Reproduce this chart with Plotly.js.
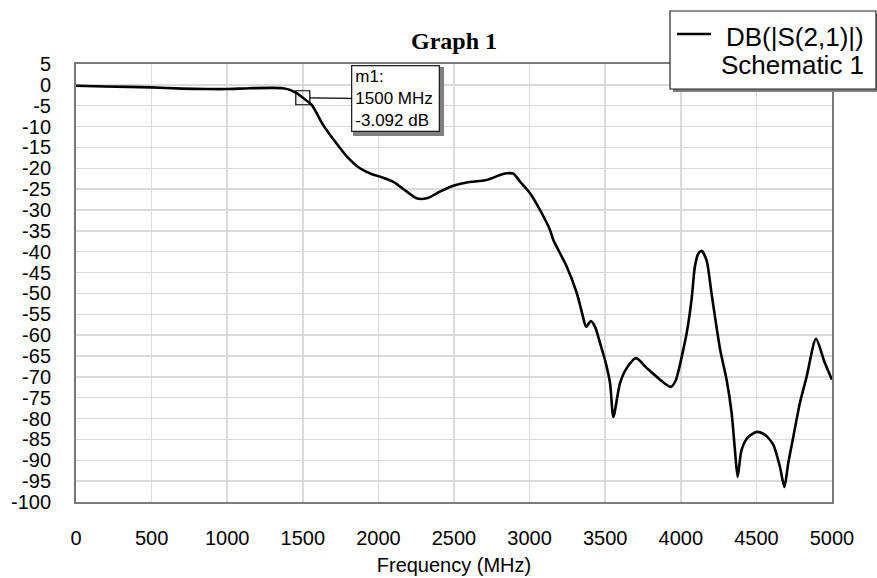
<!DOCTYPE html>
<html>
<head>
<meta charset="utf-8">
<script src="https://cdn.plot.ly/plotly-3.0.1.min.js"></script>
<style>html,body{margin:0;padding:0;background:#fff;}#chart{width:877px;height:578px;}</style>
</head>
<body>
<div id="chart"></div>
<script>
// Data
const freqMHz = [0, 192, 500, 701, 866, 1000, 1151, 1369, 1415, 1460, 1500, 1559, 1634, 1713, 1792, 1878, 1950, 2011, 2096, 2188, 2253, 2319, 2407, 2496, 2584, 2716, 2804, 2848, 2892, 2937, 3003, 3069, 3135, 3157, 3246, 3312, 3347, 3374, 3405, 3433, 3466, 3499, 3532, 3554, 3598, 3642, 3704, 3775, 3841, 3934, 3965, 3995, 4019, 4039, 4071, 4093, 4115, 4137, 4170, 4203, 4236, 4263, 4303, 4336, 4358, 4376, 4402, 4446, 4504, 4557, 4612, 4656, 4685, 4711, 4744, 4788, 4832, 4894, 4953, 5000];
const s21dB = [-0.2, -0.4, -0.6, -0.9, -1.0, -1.0, -0.8, -0.8, -1.2, -2.0, -3.09, -4.8, -9.6, -13.6, -17.2, -20.0, -21.3, -22.0, -23.2, -25.6, -27.2, -27.2, -25.6, -24.2, -23.4, -22.8, -21.6, -21.2, -21.3, -23.2, -26.0, -30.0, -34.8, -37.2, -43.6, -49.9, -54.7, -58.0, -56.6, -58.0, -61.9, -66.0, -71.5, -79.6, -71.5, -67.9, -65.5, -67.9, -70.0, -72.4, -71.0, -67.0, -63.0, -59.5, -51.5, -43.6, -40.5, -39.8, -42.0, -49.9, -58.0, -64.0, -70.7, -78.6, -87.5, -94.0, -87.5, -84.4, -83.2, -83.9, -86.3, -91.6, -96.4, -90.6, -84.4, -76.2, -70.0, -60.9, -66.7, -70.7];
const markerName = "m1:";
const markerFreq = 1500;
const markerDb = -3.092;
const xTickVals = [0, 500, 1000, 1500, 2000, 2500, 3000, 3500, 4000, 4500, 5000];
const yTickVals = [5, 0, -5, -10, -15, -20, -25, -30, -35, -40, -45, -50, -55, -60, -65, -70, -75, -80, -85, -90, -95, -100];
const seriesName = "DB(|S(2,1)|)";
const seriesSource = "Schematic 1";

// layout helpers: pixel -> paper
const L = 76, R = 832, T = 64, B = 502;
const px = v => (v - L) / (R - L);
const py = v => (B - v) / (B - T);

const trace = {
  x: freqMHz, y: s21dB, type: 'scatter', mode: 'lines',
  line: {color: '#000', width: 2.6, shape: 'spline', smoothing: 0.7},
  showlegend: false, hoverinfo: 'skip'
};

const font = 'Arial, "Liberation Sans", sans-serif';

const layout = {
  width: 877, height: 578,
  margin: {l: L, r: 877 - R, t: T, b: 578 - B, pad: 0},
  paper_bgcolor: '#fff', plot_bgcolor: '#fff',
  showlegend: false,
  title: {text: '<b>Graph 1</b>', font: {family: '"Liberation Serif", "Times New Roman", serif', size: 24, color: '#000'},
          x: 0.5, xref: 'paper', y: 1 - 41 / 578, yref: 'container', yanchor: 'middle'},
  xaxis: {
    range: [0, 5000], tickvals: xTickVals, ticktext: xTickVals.map(String),
    showgrid: true, gridcolor: '#dadada', gridwidth: 1.5,
    showline: true, linecolor: '#7a7a7a', linewidth: 2, mirror: true,
    zeroline: false, ticks: '', ticklabelstandoff: 17,
    tickfont: {family: font, size: 20, color: '#000'},
    title: {text: 'Frequency (MHz)', font: {family: font, size: 20, color: '#000'}, standoff: 10}
  },
  yaxis: {
    range: [-100, 5], tickvals: yTickVals, ticktext: yTickVals.map(String),
    showgrid: true, gridcolor: '#dadada', gridwidth: 1.5,
    showline: true, linecolor: '#7a7a7a', linewidth: 2, mirror: true,
    zeroline: false, ticks: '', ticklabelstandoff: 19,
    tickfont: {family: font, size: 20, color: '#000'}
  },
  shapes: [
    // marker square
    {type: 'rect', xref: 'x', yref: 'y', xsizemode: 'pixel', ysizemode: 'pixel',
     xanchor: markerFreq, yanchor: markerDb, x0: -7, x1: 7, y0: -7, y1: 7,
     line: {color: '#000', width: 1.2}, fillcolor: 'rgba(0,0,0,0)'},
    // legend shadow + box
    {type: 'rect', xref: 'paper', yref: 'paper', x0: px(673), x1: px(881), y0: py(92), y1: py(14),
     line: {width: 0}, fillcolor: '#7f7f7f', layer: 'above'},
    {type: 'rect', xref: 'paper', yref: 'paper', x0: px(670), x1: px(876), y0: py(89), y1: py(11),
     line: {color: '#222', width: 1.2}, fillcolor: '#fff', layer: 'above'},
    {type: 'line', xref: 'paper', yref: 'paper', x0: px(677), x1: px(711), y0: py(34), y1: py(34),
     line: {color: '#000', width: 2.4}, layer: 'above'}
  ],
  annotations: [
    // marker box shadow
    {x: markerFreq, y: markerDb, xref: 'x', yref: 'y', showarrow: false, text: '',
     xshift: 96, yshift: -4, xanchor: 'center', yanchor: 'middle',
     width: 89, height: 67, bgcolor: '#7f7f7f', borderwidth: 0},
    // marker readout
    {x: markerFreq, y: markerDb, xref: 'x', yref: 'y', showarrow: true, arrowhead: 0, arrowwidth: 1.2,
     arrowcolor: '#000', ax: 93, ay: 1, standoff: 7,
     text: markerName + '<br>' + markerFreq + ' MHz<br>' + markerDb.toFixed(3) + ' dB',
     align: 'left', font: {family: font, size: 17, color: '#000'},
     width: 80, height: 58, bgcolor: '#fff', bordercolor: '#222', borderwidth: 1.3, borderpad: 3},
    // legend text
    {xref: 'paper', yref: 'paper', x: px(866), y: py(37), xanchor: 'right', yanchor: 'middle', showarrow: false,
     text: seriesName, font: {family: font, size: 26, color: '#000'}},
    {xref: 'paper', yref: 'paper', x: px(866), y: py(65), xanchor: 'right', yanchor: 'middle', showarrow: false,
     text: seriesSource, font: {family: font, size: 26, color: '#000'}}
  ]
};

Plotly.newPlot('chart', [trace], layout, {staticPlot: true, displayModeBar: false});
</script>
</body>
</html>
